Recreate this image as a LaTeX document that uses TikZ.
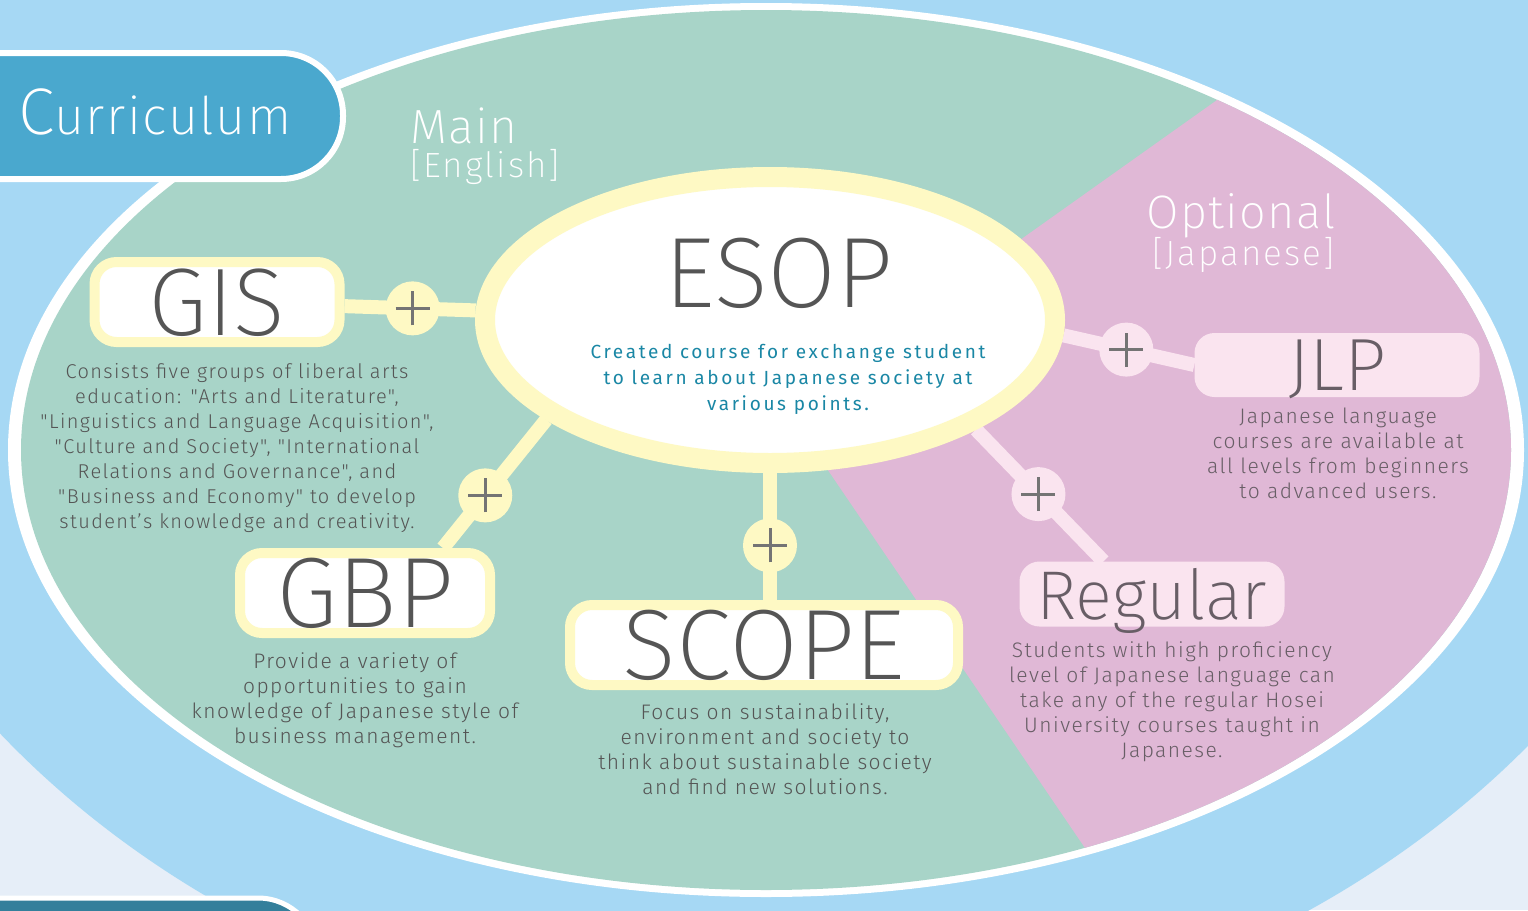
\documentclass[tikz,border=0pt]{standalone}
\usepackage{fontspec}
\setmainfont{Fira Sans Light}
\newfontfamily\thinfont{Fira Sans ExtraLight}
\newfontfamily\descfont{Fira Sans Light}[LetterSpace=7]
\newfontfamily\subfont{Fira Sans}[LetterSpace=14]
\newfontfamily\headfont{Fira Sans ExtraLight}[LetterSpace=3]
\newfontfamily\bracketfont{Fira Sans ExtraLight}[LetterSpace=6]
\usetikzlibrary{shapes.geometric}

\definecolor{skyblue}{HTML}{A6D8F4}
\definecolor{paleblue}{HTML}{E6EEF8}
\definecolor{mint}{HTML}{A8D4C8}
\definecolor{orchid}{HTML}{E0B8D6}
\definecolor{cream}{HTML}{FEF9C4}
\definecolor{blush}{HTML}{FAE4EF}
\definecolor{tabblue}{HTML}{4AA8CE}
\definecolor{tabteal}{HTML}{347F9B}
\definecolor{inkgray}{HTML}{555555}
\definecolor{inkmauve}{HTML}{685E66}
\definecolor{esopteal}{HTML}{1A87A5}
\definecolor{plusgray}{HTML}{747474}

\pgfdeclarelayer{back}
\pgfdeclarelayer{links}
\pgfsetlayers{back,links,main}

\begin{document}
\begin{tikzpicture}[x=1pt, y=-1pt,
    namebox/.style={draw=cream, line width=10pt, fill=white, rounded corners=22pt,
        minimum height=80pt, inner sep=0pt, text=inkgray, text depth=0pt},
    pinkbox/.style={fill=blush, rounded corners=20pt, inner sep=0pt, text=inkmauve, text depth=0pt},
    desc/.style={align=center, anchor=north, inner sep=0pt, text=inkgray,
        font=\descfont\fontsize{21}{25}\selectfont},
    ylink/.style={cream, line width=14pt},
    plink/.style={blush, line width=14pt},
    plusdot/.style={circle, minimum size=54pt, inner sep=0pt, path picture={
        \draw[plusgray, line width=3pt]
            ([xshift=-17pt]path picture bounding box.center) -- ([xshift=17pt]path picture bounding box.center)
            ([yshift=-17pt]path picture bounding box.center) -- ([yshift=17pt]path picture bounding box.center);}},
    plusy/.style={plusdot, fill=cream},
    plusp/.style={plusdot, fill=blush}]

    \useasboundingbox (0,0) rectangle (1528,910);

    % Background, outer band and the two fields
    \begin{pgfonlayer}{back}
    \fill[paleblue] (0,0) rectangle (1528,910);
    \fill[skyblue] (770,200) ellipse [x radius=992, y radius=846];
    \fill[white] (766,450) ellipse [x radius=758, y radius=447];
    \fill[mint] (766,450) ellipse [x radius=745, y radius=440];
    \begin{scope}
        \clip (766,450) ellipse [x radius=745, y radius=440];
        \fill[orchid] (785,407) -- (1400,-30) -- (1600,-30) -- (1600,1020) -- (1202,1020) -- cycle;
    \end{scope}

    % Tabs
    \draw[white, line width=6pt, fill=tabblue, rounded corners=62pt] (-80,53) rectangle (343,179);
    \draw[white, line width=5pt, fill=tabteal, rounded corners=60pt] (-80,898) rectangle (318,1040);
    \end{pgfonlayer}

    % Headings
    \node[anchor=base west, inner sep=0pt, text=white] (curlbl) at (18,134)
        {\headfont\fontsize{66}{66}\selectfont C\fontsize{52}{52}\selectfont urriculum};
    \node[anchor=base west, inner sep=0pt, text=white, font=\headfont\fontsize{48}{48}\selectfont] (mainlbl) at (410,143) {Main};
    \node[anchor=base west, inner sep=0pt, text=white, font=\bracketfont\fontsize{35}{35}\selectfont] (mainsub) at (410,177) {[English]};
    \node[anchor=base west, inner sep=0pt, text=white, font=\headfont\fontsize{47}{47}\selectfont] (optlbl) at (1146,228) {Optional};
    \node[anchor=base west, inner sep=0pt, text=white, font=\bracketfont\fontsize{35}{35}\selectfont] (optsub) at (1152,265) {[Japanese]};

    % Centre
    \node[ellipse, draw=cream, line width=20pt, fill=white, minimum width=570pt, minimum height=286pt] (esop) at (770,320) {};
    \node[anchor=base, inner sep=0pt, text=inkgray, font=\thinfont\fontsize{100}{100}\selectfont] (esoplbl) at (779,307) {ESOP};
    \node[align=center, anchor=north, inner sep=0pt, text=esopteal, font=\subfont\fontsize{19}{26}\selectfont] (esopsub) at (788,344)
        {Created course for exchange student\\to learn about Japanese society at\\various points.};

    % Main courses
    \node[namebox, minimum width=245pt, font=\thinfont\fontsize{96}{96}\selectfont] (gis) at (217,302) {GIS};
    \node[desc, font=\descfont\fontsize{20}{25}\selectfont] (gisdesc) at (237,363) {Consists five groups of liberal arts\\education: "Arts and Literature",\\"Linguistics and Language Acquisition",\\"Culture and Society", "International\\Relations and Governance", and\\"Business and Economy" to develop\\student’s knowledge and creativity.};

    \node[namebox, minimum width=250pt, font=\thinfont\fontsize{100}{100}\selectfont] (gbp) at (365,593) {GBP};
    \node[desc] (gbpdesc) at (355,652) {Provide a variety of\\opportunities to gain\\knowledge of Japanese style of\\business management.};

    \node[namebox, minimum width=388pt, font=\thinfont\fontsize{100}{100}\selectfont] (scope) at (764,645) {SCOPE};
    \node[desc] (scopedesc) at (765,703) {Focus on sustainability,\\environment and society to\\think about sustainable society\\and find new solutions.};

    % Optional courses
    \node[pinkbox, minimum width=285pt, minimum height=64pt, font=\thinfont\fontsize{74}{74}\selectfont] (jlp) at (1337,365) {JLP};
    \node[desc, text=inkmauve] (jlpdesc) at (1338,408) {Japanese language\\courses are available at\\all levels from beginners\\to advanced users.};

    \node[pinkbox, minimum width=265pt, minimum height=65pt, font=\thinfont\fontsize{69}{69}\selectfont] (regular) at (1152,594) {Regular};
    \node[desc, text=inkmauve] (regulardesc) at (1172,641) {Students with high proficiency\\level of Japanese language can\\take any of the regular Hosei\\University courses taught in\\Japanese.};

    % Links
    \begin{pgfonlayer}{links}
    \draw[ylink] (gis) -- node[plusy, pos=0.52] (plusgis) {} (esop);
    \draw[ylink] (gbp.30) -- node[plusy, pos=0.41] (plusgbp) {} (esop.204);
    \draw[ylink] (esop.south) -- node[plusy, pos=0.57] (plusscope) {} (esop.south |- scope.north);
    \draw[plink] (esop.-3) -- node[plusp, pos=0.48] (plusjlp) {} (jlp.west);
    \draw[plink] (esop.-28) -- node[plusp, pos=0.49] (plusregular) {} (regular.146);
    \end{pgfonlayer}

\end{tikzpicture}
\end{document}
